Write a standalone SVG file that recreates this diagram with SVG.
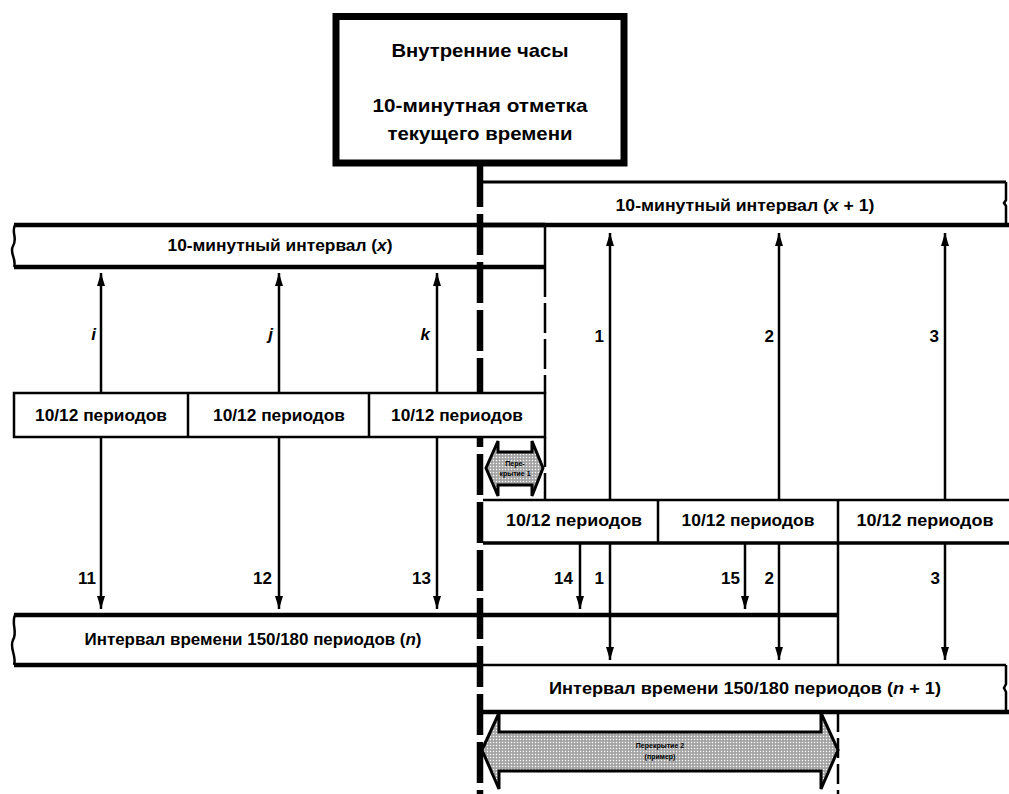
<svg xmlns="http://www.w3.org/2000/svg" width="1009" height="794" viewBox="0 0 1009 794">
<style>
text{font-family:"Liberation Sans",Arial,sans-serif;font-weight:bold;fill:#000}
.lbl{font-size:16px;text-anchor:middle}
.num{font-size:17px;text-anchor:end}
.it{font-style:italic}
.thin{stroke:#000;stroke-width:2.5;fill:none}
.box{stroke:#000;stroke-width:2.5;fill:#fff}
.thk{stroke:#000;stroke-width:4.5;fill:none}
.arr{stroke:#000;stroke-width:2.5;fill:none;marker-end:url(#ah)}
.tiny{font-size:7px;text-anchor:middle}
</style>
<defs>
<marker id="ah" viewBox="0 0 13 8" refX="13" refY="4" markerWidth="13" markerHeight="8" markerUnits="userSpaceOnUse" orient="auto">
<path d="M0,0 L13,4 L0,8 z" fill="#000"/>
</marker>
<pattern id="dots" width="3" height="3" patternUnits="userSpaceOnUse">
<rect width="3" height="3" fill="#a4a4a4"/>
<circle cx="1.5" cy="1.5" r="0.75" fill="#fff"/>
</pattern>
</defs>
<rect width="1009" height="794" fill="#fff"/>

<g id="connectors">
<line x1="480" y1="166" x2="480" y2="794" stroke="#000" stroke-width="6.5" stroke-dasharray="41 7"/>
<line x1="545" y1="267" x2="545" y2="393" stroke="#000" stroke-width="2.5" stroke-dasharray="30 6"/>
<line x1="545" y1="437" x2="545" y2="500" stroke="#000" stroke-width="2.5" stroke-dasharray="30 6"/>
<line x1="838" y1="712" x2="838" y2="794" stroke="#000" stroke-width="2.5" stroke-dasharray="20 6"/>
<line x1="101" y1="393" x2="101" y2="273" class="arr"/>
<line x1="279" y1="393" x2="279" y2="273" class="arr"/>
<line x1="437" y1="393" x2="437" y2="273" class="arr"/>
<line x1="610" y1="500" x2="610" y2="233" class="arr"/>
<line x1="779" y1="500" x2="779" y2="233" class="arr"/>
<line x1="945" y1="500" x2="945" y2="233" class="arr"/>
<line x1="101" y1="437" x2="101" y2="609" class="arr"/>
<line x1="279" y1="437" x2="279" y2="609" class="arr"/>
<line x1="437" y1="437" x2="437" y2="609" class="arr"/>
<line x1="580" y1="543" x2="580" y2="609" class="arr"/>
<line x1="745" y1="543" x2="745" y2="609" class="arr"/>
<line x1="610" y1="543" x2="610" y2="660" class="arr"/>
<line x1="779" y1="543" x2="779" y2="660" class="arr"/>
<line x1="945" y1="543" x2="945" y2="660" class="arr"/>
</g>

<g id="clock">
<rect x="336" y="16.5" width="288" height="146.5" fill="#fff" stroke="#000" stroke-width="7"/>
<text x="480" y="57" font-size="19" text-anchor="middle" textLength="177" lengthAdjust="spacingAndGlyphs">Внутренние часы</text>
<text x="480" y="112" font-size="19" text-anchor="middle" textLength="215" lengthAdjust="spacingAndGlyphs">10-минутная отметка</text>
<text x="480" y="140" font-size="19" text-anchor="middle" textLength="185" lengthAdjust="spacingAndGlyphs">текущего времени</text>
</g>

<g id="interval-x1">
<line x1="480" y1="182" x2="1006" y2="182" stroke="#000" stroke-width="3"/>
<line x1="480" y1="225" x2="1009" y2="225" class="thk"/>
<path d="M1006,182 L1006,200 L1004,203 L1006,206 L1006,225" class="thin"/>
<text x="745" y="211" class="lbl" textLength="259" lengthAdjust="spacingAndGlyphs">10-минутный интервал (<tspan class="it">x</tspan> + 1)</text>
</g>

<g id="interval-x">
<line x1="14" y1="225" x2="545" y2="225" class="thk"/>
<line x1="14" y1="267" x2="545" y2="267" class="thk"/>
<path d="M15,225 C11,233 18,238 13,246 C9,253 17,259 14,267" class="thin"/>
<line x1="545" y1="225" x2="545" y2="267" class="thin"/>
<text x="280" y="251" class="lbl" textLength="225" lengthAdjust="spacingAndGlyphs">10-минутный интервал (<tspan class="it">x</tspan>)</text>
</g>

<g id="periods-left">
<rect x="14" y="393" width="531" height="44" class="box"/>
<line x1="188" y1="393" x2="188" y2="437" class="thin"/>
<line x1="369" y1="393" x2="369" y2="437" class="thin"/>
<text x="101" y="421" class="lbl" textLength="132" lengthAdjust="spacingAndGlyphs">10/12 периодов</text>
<text x="279" y="421" class="lbl" textLength="132" lengthAdjust="spacingAndGlyphs">10/12 периодов</text>
<text x="457" y="421" class="lbl" textLength="132" lengthAdjust="spacingAndGlyphs">10/12 периодов</text>
</g>

<g id="periods-right">
<line x1="483" y1="500" x2="1009" y2="500" class="thin"/>
<line x1="483" y1="543" x2="1009" y2="543" stroke="#000" stroke-width="3.5"/>
<line x1="658" y1="500" x2="658" y2="543" class="thin"/>
<line x1="838" y1="500" x2="838" y2="543" class="thin"/>
<text x="574" y="526" class="lbl" textLength="136" lengthAdjust="spacingAndGlyphs">10/12 периодов</text>
<text x="748" y="526" class="lbl" textLength="133" lengthAdjust="spacingAndGlyphs">10/12 периодов</text>
<text x="925" y="526" class="lbl" textLength="137" lengthAdjust="spacingAndGlyphs">10/12 периодов</text>
</g>

<g id="interval-n">
<line x1="14" y1="615" x2="838" y2="615" class="thk"/>
<line x1="14" y1="665" x2="480" y2="665" class="thk"/>
<path d="M15,615 C11,624 18,632 13,640 C9,648 17,656 14,665" class="thin"/>
<line x1="838" y1="543" x2="838" y2="665" class="thin"/>
<text x="253" y="645" class="lbl" textLength="337" lengthAdjust="spacingAndGlyphs">Интервал времени 150/180 периодов (<tspan class="it">n</tspan>)</text>
</g>

<g id="interval-n1">
<line x1="480" y1="665" x2="1006" y2="665" class="thin"/>
<line x1="480" y1="712" x2="1009" y2="712" class="thk"/>
<path d="M1006,665 L1006,684 L1004,688 L1006,692 L1006,712" class="thin"/>
<text x="745" y="694" class="lbl" textLength="392" lengthAdjust="spacingAndGlyphs">Интервал времени 150/180 периодов (<tspan class="it">n</tspan> + 1)</text>
</g>

<g id="overlap-1">
<polygon points="486,468 498,441 498,452 532,452 532,441 543,468 532,496 532,485 498,485 498,496" fill="url(#dots)" stroke="#000" stroke-width="3"/>
<text x="515" y="466" class="tiny">Пере-</text>
<text x="515" y="476" class="tiny">крытие 1</text>
</g>

<g id="overlap-2">
<polygon points="482,750 499,713 499,732 821,732 821,713 838,750 821,789 821,771 499,771 499,789" fill="url(#dots)" stroke="#000" stroke-width="3"/>
<text x="660" y="748" class="tiny">Перекрытие 2</text>
<text x="660" y="759" class="tiny">(пример)</text>
</g>

<g id="labels">
<text x="96" y="340" class="num it">i</text>
<text x="273" y="340" class="num it">j</text>
<text x="430" y="340" class="num it">k</text>
<text x="604" y="342" class="num">1</text>
<text x="774" y="342" class="num">2</text>
<text x="939" y="342" class="num">3</text>
<text x="96" y="584" class="num">11</text>
<text x="272" y="584" class="num">12</text>
<text x="431" y="584" class="num">13</text>
<text x="573" y="584" class="num">14</text>
<text x="604" y="584" class="num">1</text>
<text x="740" y="584" class="num">15</text>
<text x="774" y="584" class="num">2</text>
<text x="940" y="584" class="num">3</text>
</g>
</svg>
